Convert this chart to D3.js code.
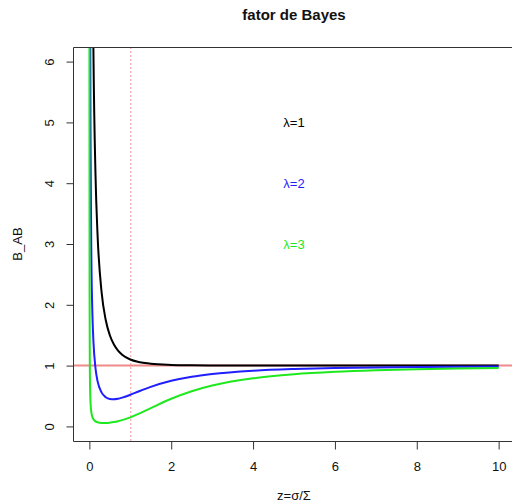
<!DOCTYPE html>
<html>
<head>
<meta charset="utf-8">
<script src="https://cdn.jsdelivr.net/npm/d3@7"></script>
<style>
  body { margin: 0; background: #fff; }
  svg { display: block; font-family: "Liberation Sans", Arial, sans-serif; }
</style>
</head>
<body>
<div class="chart"></div>
<script>
// z = sigma / Sigma
const zValues = [0.001, 0.002, 0.005, 0.01, 0.02, 0.03, 0.05, 0.075, 0.1, 0.15, 0.2, 0.3, 0.4, 0.5, 0.6, 0.7, 0.8,
  1, 1.2, 1.5, 2, 2.5, 3, 4, 5, 6, 7, 8, 9, 10];
const bLambda1 = [606.5, 303.3, 121.3, 60.66, 30.34, 20.24, 12.16, 8.13, 6.126, 4.134, 3.153, 2.200, 1.750, 1.499, 1.346, 1.247, 1.180,
  1.101, 1.0605, 1.0305, 1.0116, 1.0052, 1.0027, 1.0009, 1.0004, 1.0002, 1.0001, 1.0001, 1.0000, 1.0000];
const bLambda2 = [135.3, 67.67, 27.07, 13.54, 6.773, 4.522, 2.724, 1.830, 1.387, 0.953, 0.745, 0.556, 0.480, 0.451, 0.447, 0.456, 0.473,
  0.520, 0.5735, 0.6496, 0.7494, 0.8174, 0.8630, 0.9164, 0.9443, 0.9604, 0.9705, 0.9772, 0.9819, 0.9853];
const bLambda3 = [11.11, 5.554, 2.222, 1.1115, 0.5566, 0.3720, 0.2250, 0.1523, 0.1167, 0.0827, 0.0674, 0.0561, 0.0556, 0.0611, 0.0711, 0.0851, 0.1030,
  0.1491, 0.2059, 0.3010, 0.4545, 0.5790, 0.6721, 0.7911, 0.8577, 0.8977, 0.9232, 0.9404, 0.9524, 0.9612];
const seriesLabels = ["λ=1", "λ=2", "λ=3"];
const seriesColors = ["#000000", "#1f1fff", "#1ee81e"];
const labelPos = [[5, 5], [5, 4], [5, 3]];
const xTicks = [0, 2, 4, 6, 8, 10];
const yTicks = [0, 1, 2, 3, 4, 5, 6];
const hLine = 1, vLine = 1;

const width = 512, height = 504;
const box = { left: 73, top: 47, right: 515, bottom: 441 };

const x = d3.scaleLinear().domain([-0.4, 10.4]).range([box.left, box.right]);
const y = d3.scaleLinear().domain([-0.24, 6.24]).range([box.bottom, box.top]);

const svg = d3.select(".chart").append("svg")
  .attr("width", width).attr("height", height)
  .attr("viewBox", [0, 0, width, height]);

svg.append("clipPath").attr("id", "plot-clip")
  .append("rect")
  .attr("x", box.left).attr("y", box.top)
  .attr("width", box.right - box.left).attr("height", box.bottom - box.top);

const plot = svg.append("g").attr("clip-path", "url(#plot-clip)");

// reference lines
plot.append("line")
  .attr("x1", box.left).attr("x2", box.right)
  .attr("y1", y(hLine)).attr("y2", y(hLine))
  .attr("stroke", "#f08a8a").attr("stroke-width", 2);
plot.append("line")
  .attr("x1", x(vLine) + 0.5).attr("x2", x(vLine) + 0.5)
  .attr("y1", box.top).attr("y2", box.bottom)
  .attr("stroke", "#f49a9a").attr("stroke-width", 1)
  .attr("stroke-dasharray", "2,2");

const series = [bLambda1, bLambda2, bLambda3];
const line = d3.line()
  .x(d => x(d[0]))
  .y(d => y(Math.min(d[1], 60)))
  .curve(d3.curveMonotoneX);

plot.append("g")
  .selectAll("path")
  .data(series)
  .join("path")
  .attr("fill", "none")
  .attr("stroke", (_, i) => seriesColors[i])
  .attr("stroke-width", 2)
  .attr("d", vals => line(zValues.map((z, i) => [z, vals[i]])));

// box (left, top, bottom)
svg.append("path")
  .attr("fill", "none").attr("stroke", "#333").attr("stroke-width", 1)
  .attr("d", `M${box.right},${box.top + 0.5}H${box.left + 0.5}V${box.bottom + 0.5}H${box.right}`);

// axes
const xAxis = svg.append("g")
  .attr("transform", `translate(0,${box.bottom + 0.5})`)
  .call(d3.axisBottom(x).tickValues(xTicks).tickFormat(d3.format("d")).tickSize(8).tickPadding(12));
xAxis.select(".domain").attr("d", `M${x(0)},0H${x(10)}`).attr("stroke", "#333");
xAxis.selectAll(".tick line").attr("stroke", "#333");
xAxis.selectAll("text").style("font-size", "13px").attr("fill", "#111");

const yAxis = svg.append("g")
  .attr("transform", `translate(${box.left + 0.5},0)`)
  .call(d3.axisLeft(y).tickValues(yTicks).tickFormat(d3.format("d")).tickSize(7));
yAxis.select(".domain").attr("d", `M0,${y(0)}V${y(6)}`).attr("stroke", "#333");
yAxis.selectAll(".tick line").attr("stroke", "#333");
yAxis.selectAll("text")
  .attr("x", null).attr("dy", "0.35em")
  .attr("text-anchor", "middle")
  .attr("transform", "translate(-24,0) rotate(-90)")
  .style("font-size", "13px").attr("fill", "#111");

// text labels
svg.append("g")
  .selectAll("text")
  .data(seriesLabels)
  .join("text")
  .attr("x", (_, i) => x(labelPos[i][0]))
  .attr("y", (_, i) => y(labelPos[i][1]))
  .attr("dy", "0.35em")
  .attr("text-anchor", "middle")
  .attr("fill", (_, i) => seriesColors[i])
  .style("font-size", "13px")
  .text(d => d);

svg.append("text")
  .attr("x", x(5)).attr("y", 20)
  .attr("text-anchor", "middle")
  .style("font-size", "15px").style("font-weight", "bold")
  .attr("fill", "#111")
  .text("fator de Bayes");

svg.append("text")
  .attr("x", x(5)).attr("y", 500)
  .attr("text-anchor", "middle")
  .style("font-size", "13px").attr("fill", "#111")
  .text("z=σ/Σ");

svg.append("text")
  .attr("transform", `translate(17,${(box.top + box.bottom) / 2}) rotate(-90)`)
  .attr("dy", "0.35em")
  .attr("text-anchor", "middle")
  .style("font-size", "13px").attr("fill", "#111")
  .text("B_AB");
</script>
</body>
</html>
